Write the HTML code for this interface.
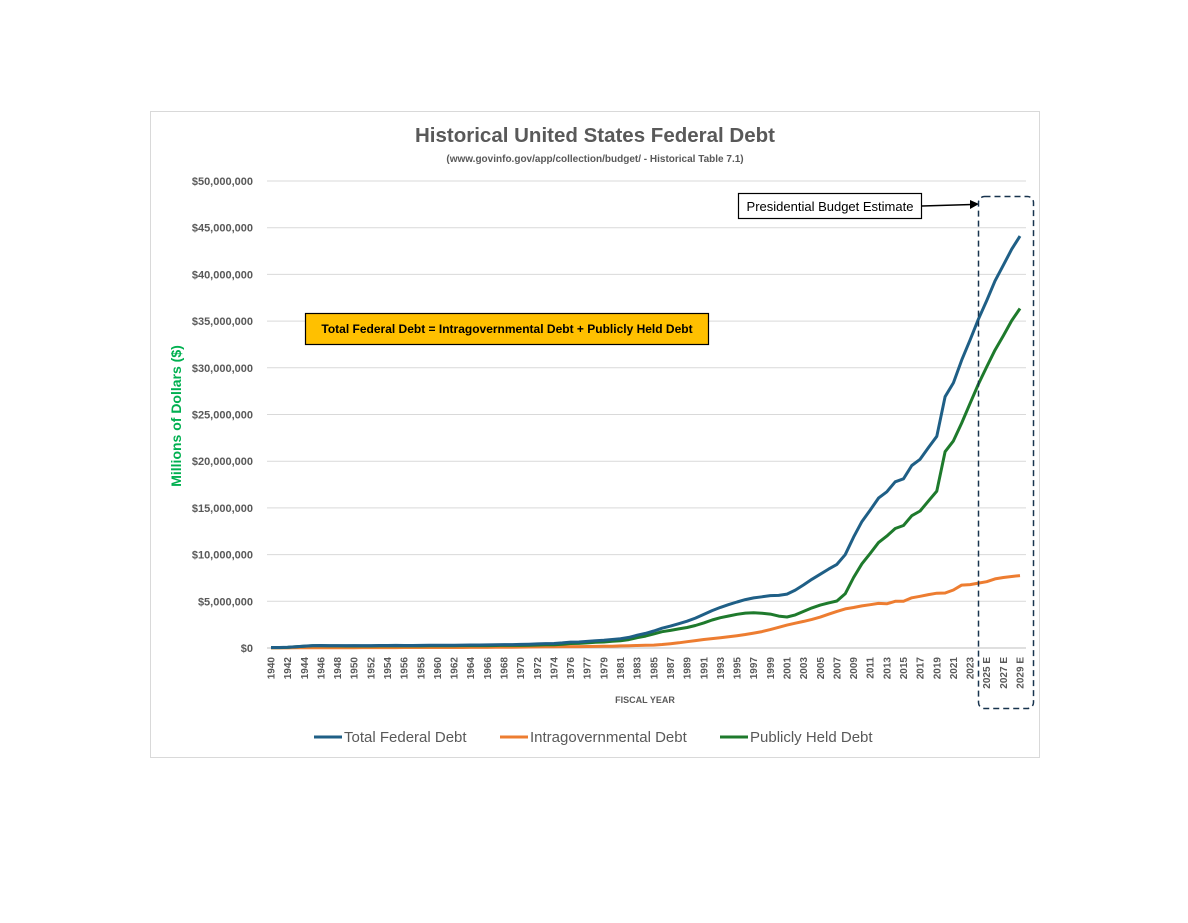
<!DOCTYPE html>
<html><head><meta charset="utf-8"><style>
body{margin:0;background:#fff;font-family:"Liberation Sans",sans-serif}
</style></head><body>
<svg id="s" width="1188" height="918" xmlns="http://www.w3.org/2000/svg" font-family="Liberation Sans, sans-serif">
<rect x="150.5" y="111.5" width="889" height="646" fill="#fff" stroke="#d9d9d9"/>
<text x="595" y="142" text-anchor="middle" font-size="20.5" font-weight="bold" fill="#595959">Historical United States Federal Debt</text>
<text x="595" y="162" text-anchor="middle" font-size="10" font-weight="bold" fill="#595959">(www.govinfo.gov/app/collection/budget/ - Historical Table 7.1)</text>
<text transform="translate(181,416) rotate(-90)" text-anchor="middle" font-size="14" font-weight="bold" fill="#00b050">Millions of Dollars ($)</text>
<text x="645" y="703" text-anchor="middle" font-size="9" font-weight="bold" fill="#595959">FISCAL YEAR</text>
<g id="g"></g>
<rect x="305.5" y="313.5" width="403" height="31" fill="#ffc000" stroke="#000" stroke-width="1.2"/>
<text x="507" y="333" text-anchor="middle" font-size="12" font-weight="bold" fill="#000">Total Federal Debt = Intragovernmental Debt + Publicly Held Debt</text>
<rect x="738.5" y="193.5" width="183" height="25" fill="#fff" stroke="#000" stroke-width="1.2"/>
<text x="830" y="211" text-anchor="middle" font-size="13" fill="#000">Presidential Budget Estimate</text>
<line x1="922" y1="206" x2="972" y2="204.5" stroke="#000" stroke-width="1.5"/>
<polygon points="979,204 970,200 970,209" fill="#000"/>
<rect x="978.5" y="196.5" width="55" height="512" rx="6" fill="none" stroke="#17324d" stroke-width="1.5" stroke-dasharray="6,4"/>
<g font-size="15" fill="#595959">
<line x1="314" y1="737" x2="342" y2="737" stroke="#1f5f86" stroke-width="3"/><text x="344" y="742">Total Federal Debt</text>
<line x1="500" y1="737" x2="528" y2="737" stroke="#ed7d31" stroke-width="3"/><text x="530" y="742">Intragovernmental Debt</text>
<line x1="720" y1="737" x2="748" y2="737" stroke="#1e7a2c" stroke-width="3"/><text x="750" y="742">Publicly Held Debt</text>
</g>
</svg>
<script>
var g=document.getElementById('g'),h='';
var y0=648,pxT=(648-181)/50;
for(var i=0;i<=10;i++){var y=y0-i*5*pxT;
h+='<line x1="267" x2="1026" y1="'+y+'" y2="'+y+'" stroke="'+(i==0?'#bfbfbf':'#d9d9d9')+'"/>';
var v=i==0?'$0':'$'+(i*5)+',000,000';
h+='<text x="253" y="'+(y+4)+'" text-anchor="end" font-size="11" font-weight="bold" fill="#595959">'+v+'</text>';}
var cats=[];for(var yr=1940;yr<=2029;yr++){cats.push(yr);if(yr==1976)cats.push('TQ');}
var x0=271,dx=(1020-271)/(cats.length-1);
var tot=[0.051,0.058,0.079,0.143,0.204,0.260,0.271,0.257,0.252,0.253,0.257,0.255,0.259,0.266,0.271,0.274,0.273,0.272,0.280,0.287,0.291,0.293,0.303,0.311,0.317,0.322,0.328,0.340,0.369,0.366,0.381,0.408,0.436,0.466,0.484,0.542,0.629,0.644,0.706,0.777,0.829,0.909,0.995,1.137,1.372,1.565,1.817,2.121,2.346,2.601,2.868,3.206,3.598,4.002,4.351,4.643,4.921,5.181,5.369,5.478,5.606,5.629,5.770,6.198,6.760,7.355,7.905,8.451,8.951,9.986,11.876,13.529,14.764,16.051,16.719,17.794,18.120,19.539,20.206,21.462,22.669,26.902,28.385,30.824,32.989,35.2,37.2,39.3,41.0,42.7,44.1];
var kf={1940:0.007,1945:0.025,1950:0.037,1955:0.047,1960:0.054,1965:0.061,1970:0.098,1975:0.147,1976:0.151,1977:0.157,1980:0.197,1985:0.310,1986:0.380,1987:0.457,1988:0.559,1989:0.677,1990:0.795,1991:0.909,1992:1.003,1993:1.104,1994:1.212,1995:1.317,1996:1.447,1997:1.597,1998:1.757,1999:1.973,2000:2.218,2001:2.450,2002:2.658,2003:2.846,2004:3.059,2005:3.313,2006:3.622,2007:3.915,2008:4.183,2009:4.331,2010:4.510,2011:4.636,2012:4.770,2013:4.737,2014:5.000,2015:5.003,2016:5.372,2017:5.540,2018:5.712,2019:5.869,2020:5.885,2021:6.213,2022:6.731,2023:6.785,2024:6.95,2025:7.1,2026:7.4,2027:7.55,2028:7.65,2029:7.75};
function ig(yr){if(kf[yr]!=null)return kf[yr];var a=yr,b=yr;while(kf[a]==null)a--;while(kf[b]==null)b++;return kf[a]+(kf[b]-kf[a])*(yr-a)/(b-a);}
var pt=[],pi=[],pp=[];
cats.forEach(function(c,i){var x=x0+i*dx;var yr=c=='TQ'?1976.5:c;var t=tot[i],iv=c=='TQ'?0.148:ig(yr);
pt.push(x.toFixed(1)+','+(y0-t*pxT).toFixed(1));pi.push(x.toFixed(1)+','+(y0-iv*pxT).toFixed(1));pp.push(x.toFixed(1)+','+(y0-(t-iv)*pxT).toFixed(1));
if(i%2==0){var lab=c>2024?c+' E':c;h+='<text transform="translate('+(x+3.5)+',657) rotate(-90)" text-anchor="end" font-size="10" font-weight="bold" fill="#595959">'+lab+'</text>';}});
h+='<polyline points="'+pi.join(' ')+'" fill="none" stroke="#ed7d31" stroke-width="3" stroke-linejoin="round"/>';
h+='<polyline points="'+pp.join(' ')+'" fill="none" stroke="#1e7a2c" stroke-width="3" stroke-linejoin="round"/>';
h+='<polyline points="'+pt.join(' ')+'" fill="none" stroke="#1f5f86" stroke-width="3" stroke-linejoin="round"/>';
g.innerHTML=h;
</script>
</body></html>
